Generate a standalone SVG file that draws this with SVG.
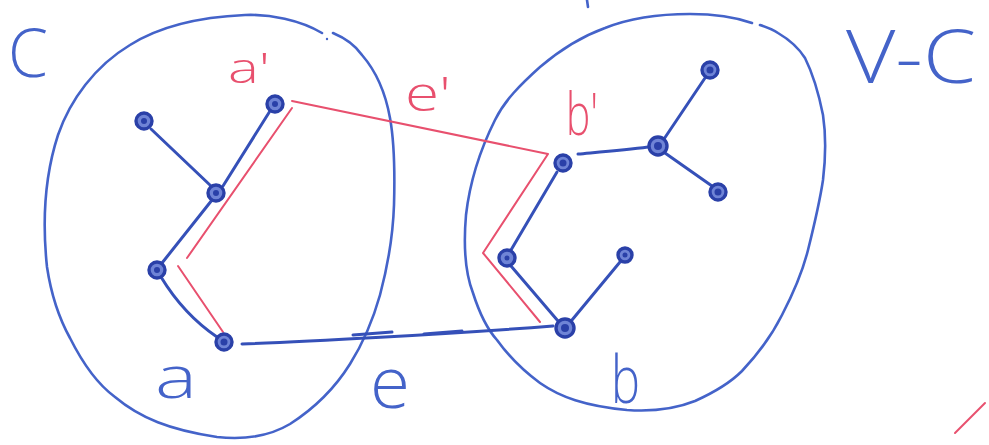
<svg xmlns="http://www.w3.org/2000/svg" width="989" height="445" viewBox="0 0 989 445">
<style>
.blob{fill:none;stroke:#4463c9;stroke-width:2.6;stroke-linecap:round;stroke-linejoin:round}
.edge{fill:none;stroke:#3550b8;stroke-width:3;stroke-linecap:round}
.red{fill:none;stroke:#e8506e;stroke-width:2;stroke-linecap:round;stroke-linejoin:round}
.node{fill:#6f84d6;stroke:#2a40a8;stroke-width:3.4}
.core{fill:#2a40a8}
.lb{font-family:"Open Sans","Liberation Sans",Arial,sans-serif;font-weight:300;fill:#4463c9}
.lr{font-family:"Open Sans","Liberation Sans",Arial,sans-serif;font-weight:300;fill:#e8506e}
</style>
<rect width="989" height="445" fill="#ffffff"/>

<g id="set-C">
<path class="blob" d="M322,33 C300,20 270,14 245,15 C200,17 160,26 130,45 C95,66 70,100 58,135 C45,175 42,220 47,267 C52,300 60,320 70,338 C85,368 100,386 115,397 C140,418 170,430 217,437 C245,440 270,436 290,424 C315,408 335,388 350,364 C365,340 373,320 380,295 C388,265 393,235 394,205 C395,170 394,140 390,118 C385,90 375,70 362,55 C355,45 345,38 333,33"/>
<circle cx="327" cy="39" r="1.2" fill="#4463c9"/>
<text class="lb" x="8" y="77" font-size="66" textLength="40" lengthAdjust="spacingAndGlyphs">C</text>
</g>

<g id="set-VC">
<path class="blob" d="M752,23 C735,17 715,14 690,14 C660,14 630,18 605,28 C580,37 560,50 540,67 C520,85 505,100 495,120 C480,150 470,180 466,215 C463,250 466,275 473,293 C480,315 488,330 497,340 C510,358 525,372 540,383 C560,397 585,406 627,410 C655,412 675,409 695,401 C715,392 730,383 742,371 C760,352 772,335 782,315 C795,290 803,270 808,250 C815,222 820,200 823,180 C826,155 826,135 823,115 C818,90 812,72 805,58 C798,47 790,40 778,33 C772,29 766,27 760,25"/>
<text class="lb" x="846" y="83" font-size="74" textLength="130" lengthAdjust="spacingAndGlyphs">V-C</text>
<path class="blob" d="M587,0 L588,7"/>
</g>

<g id="connectors">
<line class="edge" x1="151" y1="129" x2="211" y2="186"/>
<line class="edge" x1="270" y1="111" x2="223" y2="186"/>
<line class="edge" x1="212" y1="200" x2="162" y2="263"/>
<path class="edge" d="M161,277 C175,300 195,322 217,337"/>
<path class="edge" d="M242,344 C300,342 450,334 553,326"/>
<path class="edge" d="M353,335 L392,332 M424,334 L462,331" stroke-width="3.4"/>
<path class="edge" d="M578,154 C600,152 625,150 648,147"/>
<line class="edge" x1="664" y1="139" x2="705" y2="78"/>
<line class="edge" x1="665" y1="153" x2="712" y2="186"/>
<line class="edge" x1="557" y1="172" x2="511" y2="250"/>
<line class="edge" x1="511" y1="266" x2="558" y2="321"/>
<line class="edge" x1="572" y1="320" x2="620" y2="262"/>
<path class="red" d="M292,101 L548,154 L483,253 L540,322"/>
<path class="red" d="M292,108 L187,258"/>
<path class="red" d="M178,266 L223,332"/>
</g>

<g id="node-a-prime"><circle class="node" cx="275" cy="104" r="8"/><circle class="core" cx="275" cy="104" r="3"/><text class="lr" x="228" y="83" font-size="42" textLength="42" lengthAdjust="spacingAndGlyphs">a'</text></g>
<g id="node-c1"><circle class="node" cx="144" cy="121" r="8"/><circle class="core" cx="144" cy="121" r="3"/></g>
<g id="node-c2"><circle class="node" cx="216" cy="193" r="8"/><circle class="core" cx="216" cy="193" r="3"/></g>
<g id="node-c3"><circle class="node" cx="157" cy="270" r="8"/><circle class="core" cx="157" cy="270" r="3"/></g>
<g id="node-a"><circle class="node" cx="224" cy="342" r="8"/><circle class="core" cx="224" cy="342" r="3.5"/><text class="lb" x="155" y="398" font-size="58" textLength="42" lengthAdjust="spacingAndGlyphs">a</text></g>

<g id="node-b-prime"><circle class="node" cx="563" cy="163" r="8"/><circle class="core" cx="563" cy="163" r="3.5"/><text class="lr" x="566" y="135" font-size="58" textLength="32" lengthAdjust="spacingAndGlyphs">b'</text></g>
<g id="node-d1"><circle class="node" cx="658" cy="146" r="9"/><circle class="core" cx="658" cy="146" r="4"/></g>
<g id="node-d2"><circle class="node" cx="710" cy="70" r="8"/><circle class="core" cx="710" cy="70" r="3.5"/></g>
<g id="node-d3"><circle class="node" cx="718" cy="192" r="8"/><circle class="core" cx="718" cy="192" r="3.5"/></g>
<g id="node-d4"><circle class="node" cx="507" cy="258" r="8"/><circle class="core" cx="507" cy="258" r="2.5"/></g>
<g id="node-d5"><circle class="node" cx="625" cy="255" r="7"/><circle class="core" cx="625" cy="255" r="2.5"/></g>
<g id="node-b"><circle class="node" cx="565" cy="328" r="9"/><circle class="core" cx="565" cy="328" r="4"/><text class="lb" x="611" y="403" font-size="66" textLength="29" lengthAdjust="spacingAndGlyphs">b</text></g>

<g id="edge-labels">
<text class="lr" x="405" y="111" font-size="48" textLength="46" lengthAdjust="spacingAndGlyphs">e'</text>
<text class="lb" x="370" y="408" font-size="72" textLength="40" lengthAdjust="spacingAndGlyphs">e</text>
<line class="red" x1="955" y1="433" x2="985" y2="403" stroke-width="2.4"/>
</g>
</svg>
